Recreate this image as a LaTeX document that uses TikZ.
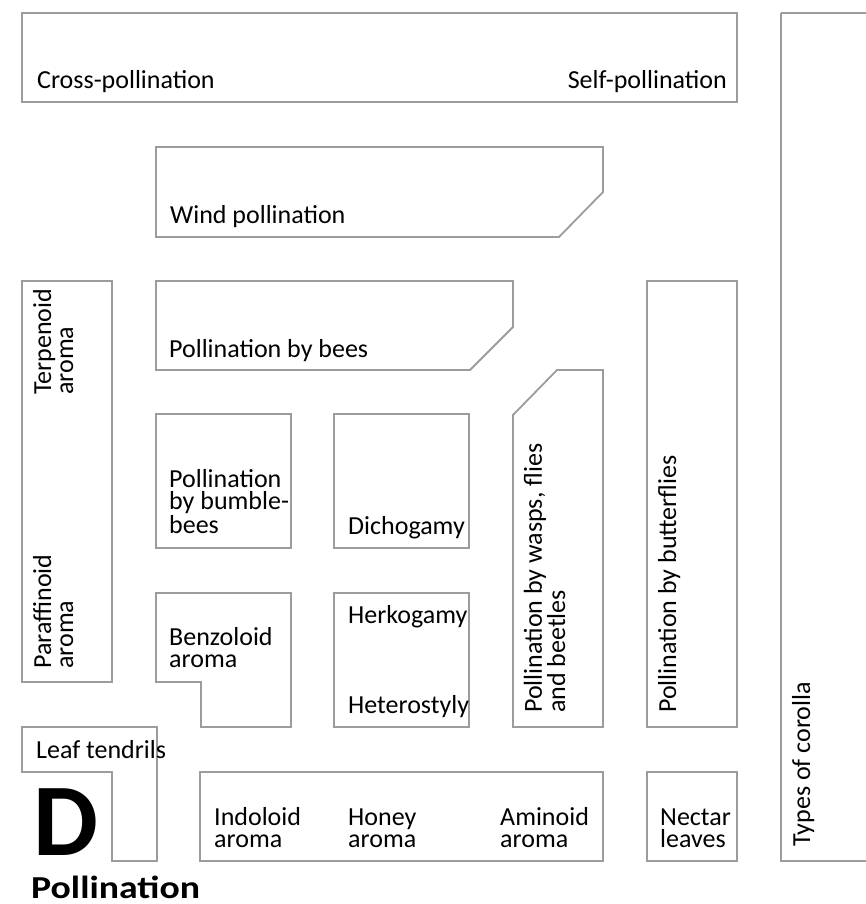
\documentclass[tikz,border=0pt]{standalone}
\usepackage{fontspec}
\setmainfont{Carlito}
\usepackage{graphicx}
\usepackage{xcolor}
\definecolor{framegray}{HTML}{9C9C9C}

\tikzset{
  field/.style={draw=framegray, line width=1.8pt, line join=miter},
  lbl/.style={inner sep=0pt, font=\fontsize{26}{22}\selectfont, align=left, anchor=base west},
  vlbl/.style={lbl, rotate=90},
}

\begin{document}
\begin{tikzpicture}[x=1pt,y=-1pt]
  \useasboundingbox (0,0) rectangle (865,904);

  % top row
  \draw[field] (22,13) rectangle (737,102);
  \node[lbl] (cross) at (37,89) {Cross-pollination};
  \node[lbl, anchor=base east] (self) at (727,89) {Self-pollination};
  \draw[field] (781,13) -- (781,861) -- (880,861);
  \draw[field] (781,13) -- (880,13);
  \node[vlbl] (corolla) at (810,847) {Types of corolla};

  % wind and bees
  \draw[field] (156,147) -- (603,147) -- (603,192) -- (559,237) -- (156,237) -- cycle;
  \node[lbl] (wind) at (170,223) {Wind pollination};
  \draw[field] (156,281) -- (513,281) -- (513,327) -- (470,370) -- (156,370) -- cycle;
  \node[lbl] (bees) at (169,357) {Pollination by bees};

  % left column of aromas (base = last line)
  \draw[field] (22,281) rectangle (112,682);
  \node[vlbl] (terpen) at (73,395) {Terpenoid\\aroma};
  \node[vlbl] (paraff) at (73,669) {Paraffinoid\\aroma};

  % middle blocks
  \draw[field] (156,414) rectangle (291,548);
  \node[lbl] (bumble) at (169,533) {Pollination\\by bumble-\\bees};
  \draw[field] (334,414) rectangle (469,548);
  \node[lbl] (dicho) at (348,534) {Dichogamy};
  \draw[field] (156,593) -- (291,593) -- (291,727) -- (201,727) -- (201,682) -- (156,682) -- cycle;
  \node[lbl] (benzo) at (169,667) {Benzoloid\\aroma};
  \draw[field] (334,593) rectangle (469,727);
  \node[lbl] (herko) at (348,623) {Herkogamy};
  \node[lbl] (hetero) at (348,713) {Heterostyly};

  % insects
  \draw[field] (557,370) -- (603,370) -- (603,727) -- (513,727) -- (513,415) -- cycle;
  \node[vlbl] (wasps) at (565,713) {Pollination by wasps, flies\\and beetles};
  \draw[field] (647,281) rectangle (737,727);
  \node[vlbl] (butter) at (676,713) {Pollination by butterflies};

  % bottom row
  \draw[field] (22,727) -- (157,727) -- (157,861) -- (112,861) -- (112,772) -- (22,772) -- cycle;
  \node[lbl] (tendril) at (36,758) {Leaf tendrils};
  \draw[field] (200,772) rectangle (603,861);
  \node[lbl] (indol) at (214,847) {Indoloid\\aroma};
  \node[lbl] (honey) at (348,847) {Honey\\aroma};
  \node[lbl] (amino) at (500,847) {Aminoid\\aroma};
  \draw[field] (647,772) rectangle (737,861);
  \node[lbl] (nectar) at (660,847) {Nectar\\leaves};

  % panel letter
  \node[lbl, font=\fontsize{103}{103}\selectfont\bfseries] (letter) at (33,855) {D};
  \node[lbl, font=\fontsize{32}{32}\selectfont\bfseries] (title) at (31,898) {\scalebox{1.18}[1]{Pollination}};
\end{tikzpicture}
\end{document}
